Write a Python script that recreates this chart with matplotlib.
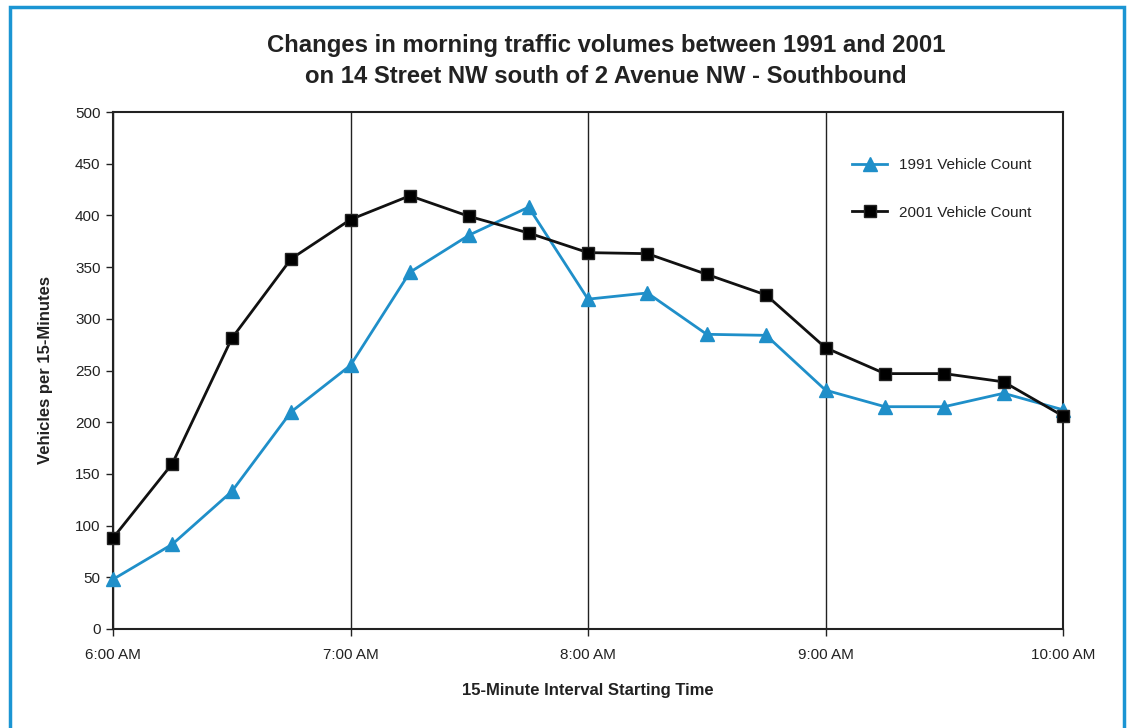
import matplotlib
matplotlib.use("Agg")
import matplotlib.pyplot as plt
from matplotlib.patches import Rectangle

plt.rcParams['font.family'] = ['Liberation Sans', 'DejaVu Sans']

times = ["6:00 AM", "6:15 AM", "6:30 AM", "6:45 AM", "7:00 AM", "7:15 AM", "7:30 AM", "7:45 AM",
         "8:00 AM", "8:15 AM", "8:30 AM", "8:45 AM", "9:00 AM", "9:15 AM", "9:30 AM", "9:45 AM", "10:00 AM"]
count_1991 = [48, 82, 133, 210, 255, 345, 381, 408, 319, 325, 285, 284, 231, 215, 215, 228, 212]
count_2001 = [88, 160, 281, 358, 396, 419, 399, 383, 364, 363, 343, 323, 272, 247, 247, 239, 206]
hour_labels = ["6:00 AM", "7:00 AM", "8:00 AM", "9:00 AM", "10:00 AM"]
yticks = list(range(0, 501, 50))

W, H = 1127, 728
fig = plt.figure(figsize=(W / 100, H / 100), dpi=100)
ax = fig.add_axes([113 / W, 1 - 629 / H, (1063 - 113) / W, (629 - 112) / H])

# blue frame around figure
fig.patches.append(Rectangle((10 / W, -0.05), (1124 - 10) / W, (H - 7) / H + 0.05,
                             transform=fig.transFigure, fill=False,
                             edgecolor='#1b95d3', linewidth=2.5))

x = list(range(len(times)))
ax.plot(x, count_1991, color='#1f8fc9', linewidth=2, marker='^', markersize=10,
        label='1991 Vehicle Count', clip_on=False, zorder=3)
ax.plot(x, count_2001, color='#111111', linewidth=2, marker='s', markersize=9,
        markerfacecolor='black', markeredgecolor='#222222',
        label='2001 Vehicle Count', clip_on=False, zorder=4)

ax.set_xlim(0, len(times) - 1)
ax.set_ylim(0, 500)
hour_pos = [i for i, t in enumerate(times) if t in hour_labels]
ax.set_xticks(hour_pos)
ax.set_xticklabels(hour_labels, fontsize=11, color='#222222')
ax.set_yticks(yticks)
ax.set_yticklabels([str(v) for v in yticks], fontsize=11, color='#222222')
ax.tick_params(axis='y', direction='out', length=5, width=1, color='#222222', pad=4)
ax.tick_params(axis='x', direction='out', length=5, width=1, color='#222222', pad=9)
for hp in hour_pos:
    ax.axvline(hp, color='#222222', linewidth=1, zorder=1)
for s in ax.spines.values():
    s.set_color('#222222')
    s.set_linewidth(1.5)

ax.set_xlabel('15-Minute Interval Starting Time', fontsize=12, fontweight='bold',
              color='#222222', labelpad=15)
ax.set_ylabel('Vehicles per 15-Minutes', fontsize=12, fontweight='bold',
              color='#222222', labelpad=16)

fig.text(606 / W, 1 - 61 / H,
         'Changes in morning traffic volumes between 1991 and 2001\non 14 Street NW south of 2 Avenue NW - Southbound',
         ha='center', va='center', fontsize=17.2, fontweight='bold', color='#222222',
         linespacing=1.4)

leg = ax.legend(loc='upper left', bbox_to_anchor=(733 / 950, 1 - 40 / 517), frameon=False,
                fontsize=11, labelspacing=2.2, handlelength=2.3, borderaxespad=0)
for t in leg.get_texts():
    t.set_color('#222222')

fig.savefig('out.png', dpi=100)
